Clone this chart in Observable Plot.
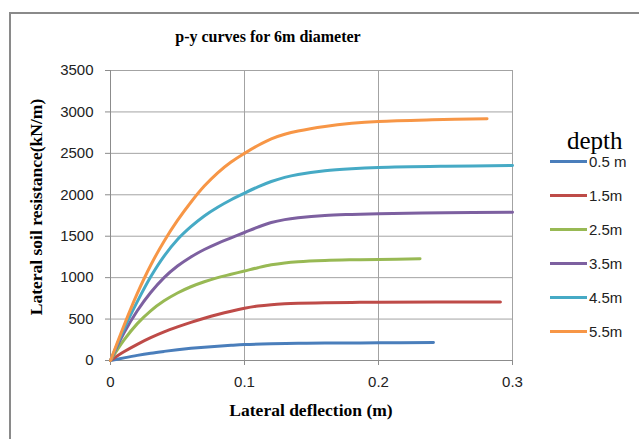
<!DOCTYPE html>
<html>
<head>
<meta charset="utf-8">
<script src="https://cdn.jsdelivr.net/npm/d3@7"></script>
<script src="https://cdn.jsdelivr.net/npm/@observablehq/plot@0.6"></script>
<style>
  html, body { margin: 0; padding: 0; width: 639px; height: 439px; overflow: hidden; background: #fff; }
  #frame { position: absolute; left: 9px; top: 12px; width: 700px; height: 500px; border: 2px solid #8a8a8a; box-sizing: border-box; }
  #chart { position: absolute; left: 0; top: 0; }
  .title { position: absolute; left: 0; width: 536px; top: 28px; text-align: center; font: bold 16px "Liberation Serif", "DejaVu Serif", serif; color: #000; }
  .ylab { position: absolute; left: 36px; top: 207px; transform: translate(-50%, -50%) rotate(-90deg); white-space: nowrap; font: bold 17.5px "Liberation Serif", serif; color: #000; }
  .xlab { position: absolute; left: 311px; top: 410px; transform: translate(-50%, -50%); white-space: nowrap; font: bold 17.5px "Liberation Serif", serif; color: #000; }
  .legtitle { position: absolute; left: 567px; top: 128px; font: 25px/25px "Liberation Serif", serif; color: #000; }
  .legitem { position: absolute; left: 550px; height: 16px; display: flex; align-items: center; font: 15px "Liberation Sans", sans-serif; color: #222; white-space: nowrap; }
  .legitem span.sw { display: inline-block; width: 37px; height: 3px; margin-right: 2px; }
</style>
</head>
<body>
<div id="frame"></div>
<div id="chart"></div>
<div class="title">p-y curves for 6m diameter</div>
<div class="ylab">Lateral soil resistance(kN/m)</div>
<div class="xlab">Lateral deflection (m)</div>
<div class="legtitle">depth</div>
<div id="legend"></div>
<script>
// Series labels and colours
const depths = ["0.5 m", "1.5m", "2.5m", "3.5m", "4.5m", "5.5m"];
const colors = ["#4A7EBB", "#BE4B48", "#98B954", "#7D60A0", "#46AAC5", "#F79646"];

// Lateral deflection (m) and lateral soil resistance (kN/m) per depth
const defl_05 = [0, 0.01, 0.02, 0.03, 0.04, 0.05, 0.06, 0.07, 0.08, 0.09, 0.1, 0.12, 0.14, 0.16, 0.2, 0.241];
const res_05  = [0, 32, 62, 88, 110, 130, 147, 161, 173, 184, 193, 202, 207, 210, 213, 216];

const defl_15 = [0, 0.01, 0.02, 0.03, 0.04, 0.05, 0.06, 0.07, 0.08, 0.09, 0.1, 0.11, 0.12, 0.13, 0.14, 0.16, 0.18, 0.2, 0.291];
const res_15  = [0, 105, 195, 275, 345, 405, 460, 510, 555, 595, 630, 657, 674, 684, 690, 697, 701, 703, 706];

const defl_25 = [0, 0.01, 0.02, 0.03, 0.04, 0.05, 0.06, 0.07, 0.08, 0.09, 0.1, 0.11, 0.12, 0.13, 0.14, 0.16, 0.18, 0.2, 0.231];
const res_25  = [0, 245, 445, 600, 720, 815, 890, 950, 1000, 1040, 1080, 1120, 1155, 1178, 1192, 1207, 1215, 1220, 1228];

const defl_35 = [0, 0.01, 0.02, 0.03, 0.04, 0.05, 0.06, 0.07, 0.08, 0.09, 0.1, 0.11, 0.12, 0.13, 0.14, 0.16, 0.18, 0.2, 0.25, 0.3];
const res_35  = [0, 330, 600, 820, 1000, 1140, 1250, 1340, 1415, 1480, 1545, 1610, 1665, 1700, 1722, 1750, 1763, 1772, 1782, 1790];

const defl_45 = [0, 0.01, 0.02, 0.03, 0.04, 0.05, 0.06, 0.07, 0.08, 0.09, 0.1, 0.11, 0.12, 0.13, 0.14, 0.16, 0.18, 0.2, 0.25, 0.3];
const res_45  = [0, 380, 710, 1010, 1260, 1460, 1615, 1745, 1850, 1940, 2020, 2095, 2160, 2210, 2245, 2290, 2315, 2330, 2345, 2353];

const defl_55 = [0, 0.01, 0.02, 0.03, 0.04, 0.05, 0.06, 0.07, 0.08, 0.09, 0.1, 0.11, 0.12, 0.13, 0.14, 0.16, 0.18, 0.2, 0.24, 0.281];
const res_55  = [0, 420, 810, 1150, 1440, 1690, 1910, 2105, 2265, 2395, 2500, 2595, 2675, 2730, 2770, 2825, 2862, 2885, 2905, 2917];

// Axis ticks
const xTicks = [0, 0.1, 0.2, 0.3];
const yTicks = [0, 500, 1000, 1500, 2000, 2500, 3000, 3500];

const seriesX = [defl_05, defl_15, defl_25, defl_35, defl_45, defl_55];
const seriesY = [res_05, res_15, res_25, res_35, res_45, res_55];
const rows = depths.flatMap((d, i) => seriesX[i].map((x, j) => ({depth: d, x, y: seriesY[i][j]})));

const grid = "#a3a3a3";
const xfmt = d => d === 0 ? "0" : String(d);
const yfmt = d => String(d);
const plot = Plot.plot({
  width: 639,
  height: 439,
  marginLeft: 110,
  marginRight: 127,
  marginTop: 70,
  marginBottom: 79,
  style: {fontFamily: "'Liberation Sans', sans-serif", fontSize: "15px", color: "#222", background: "transparent"},
  x: {domain: [0, 0.3], label: null},
  y: {domain: [0, 3500], label: null},
  color: {domain: depths, range: colors},
  marks: [
    Plot.gridX(xTicks, {stroke: grid, strokeOpacity: 1, strokeWidth: 1}),
    Plot.gridY(yTicks, {stroke: grid, strokeOpacity: 1, strokeWidth: 1}),
    Plot.ruleX([0], {stroke: "#8c8c8c", strokeWidth: 1}),
    Plot.ruleY([0], {stroke: "#8c8c8c", strokeWidth: 1}),
    Plot.axisX({ticks: xTicks, tickSize: 5, tickPadding: 11, stroke: "#8c8c8c", tickFormat: xfmt, label: null, fill: "#222"}),
    Plot.axisY({ticks: yTicks, tickSize: 5, tickPadding: 12, stroke: "#8c8c8c", tickFormat: yfmt, label: null, fill: "#222"}),
    Plot.line(rows, {x: "x", y: "y", z: "depth", stroke: "depth", strokeWidth: 3, curve: "catmull-rom", strokeLinecap: "round"})
  ]
});
document.getElementById("chart").appendChild(plot);

// Legend
const leg = document.getElementById("legend");
depths.forEach((d, i) => {
  const item = document.createElement("div");
  item.className = "legitem";
  item.style.top = (153 + i * 34) + "px";
  item.innerHTML = `<span class="sw" style="background:${colors[i]}"></span>${d}`;
  leg.appendChild(item);
});
</script>
</body>
</html>
